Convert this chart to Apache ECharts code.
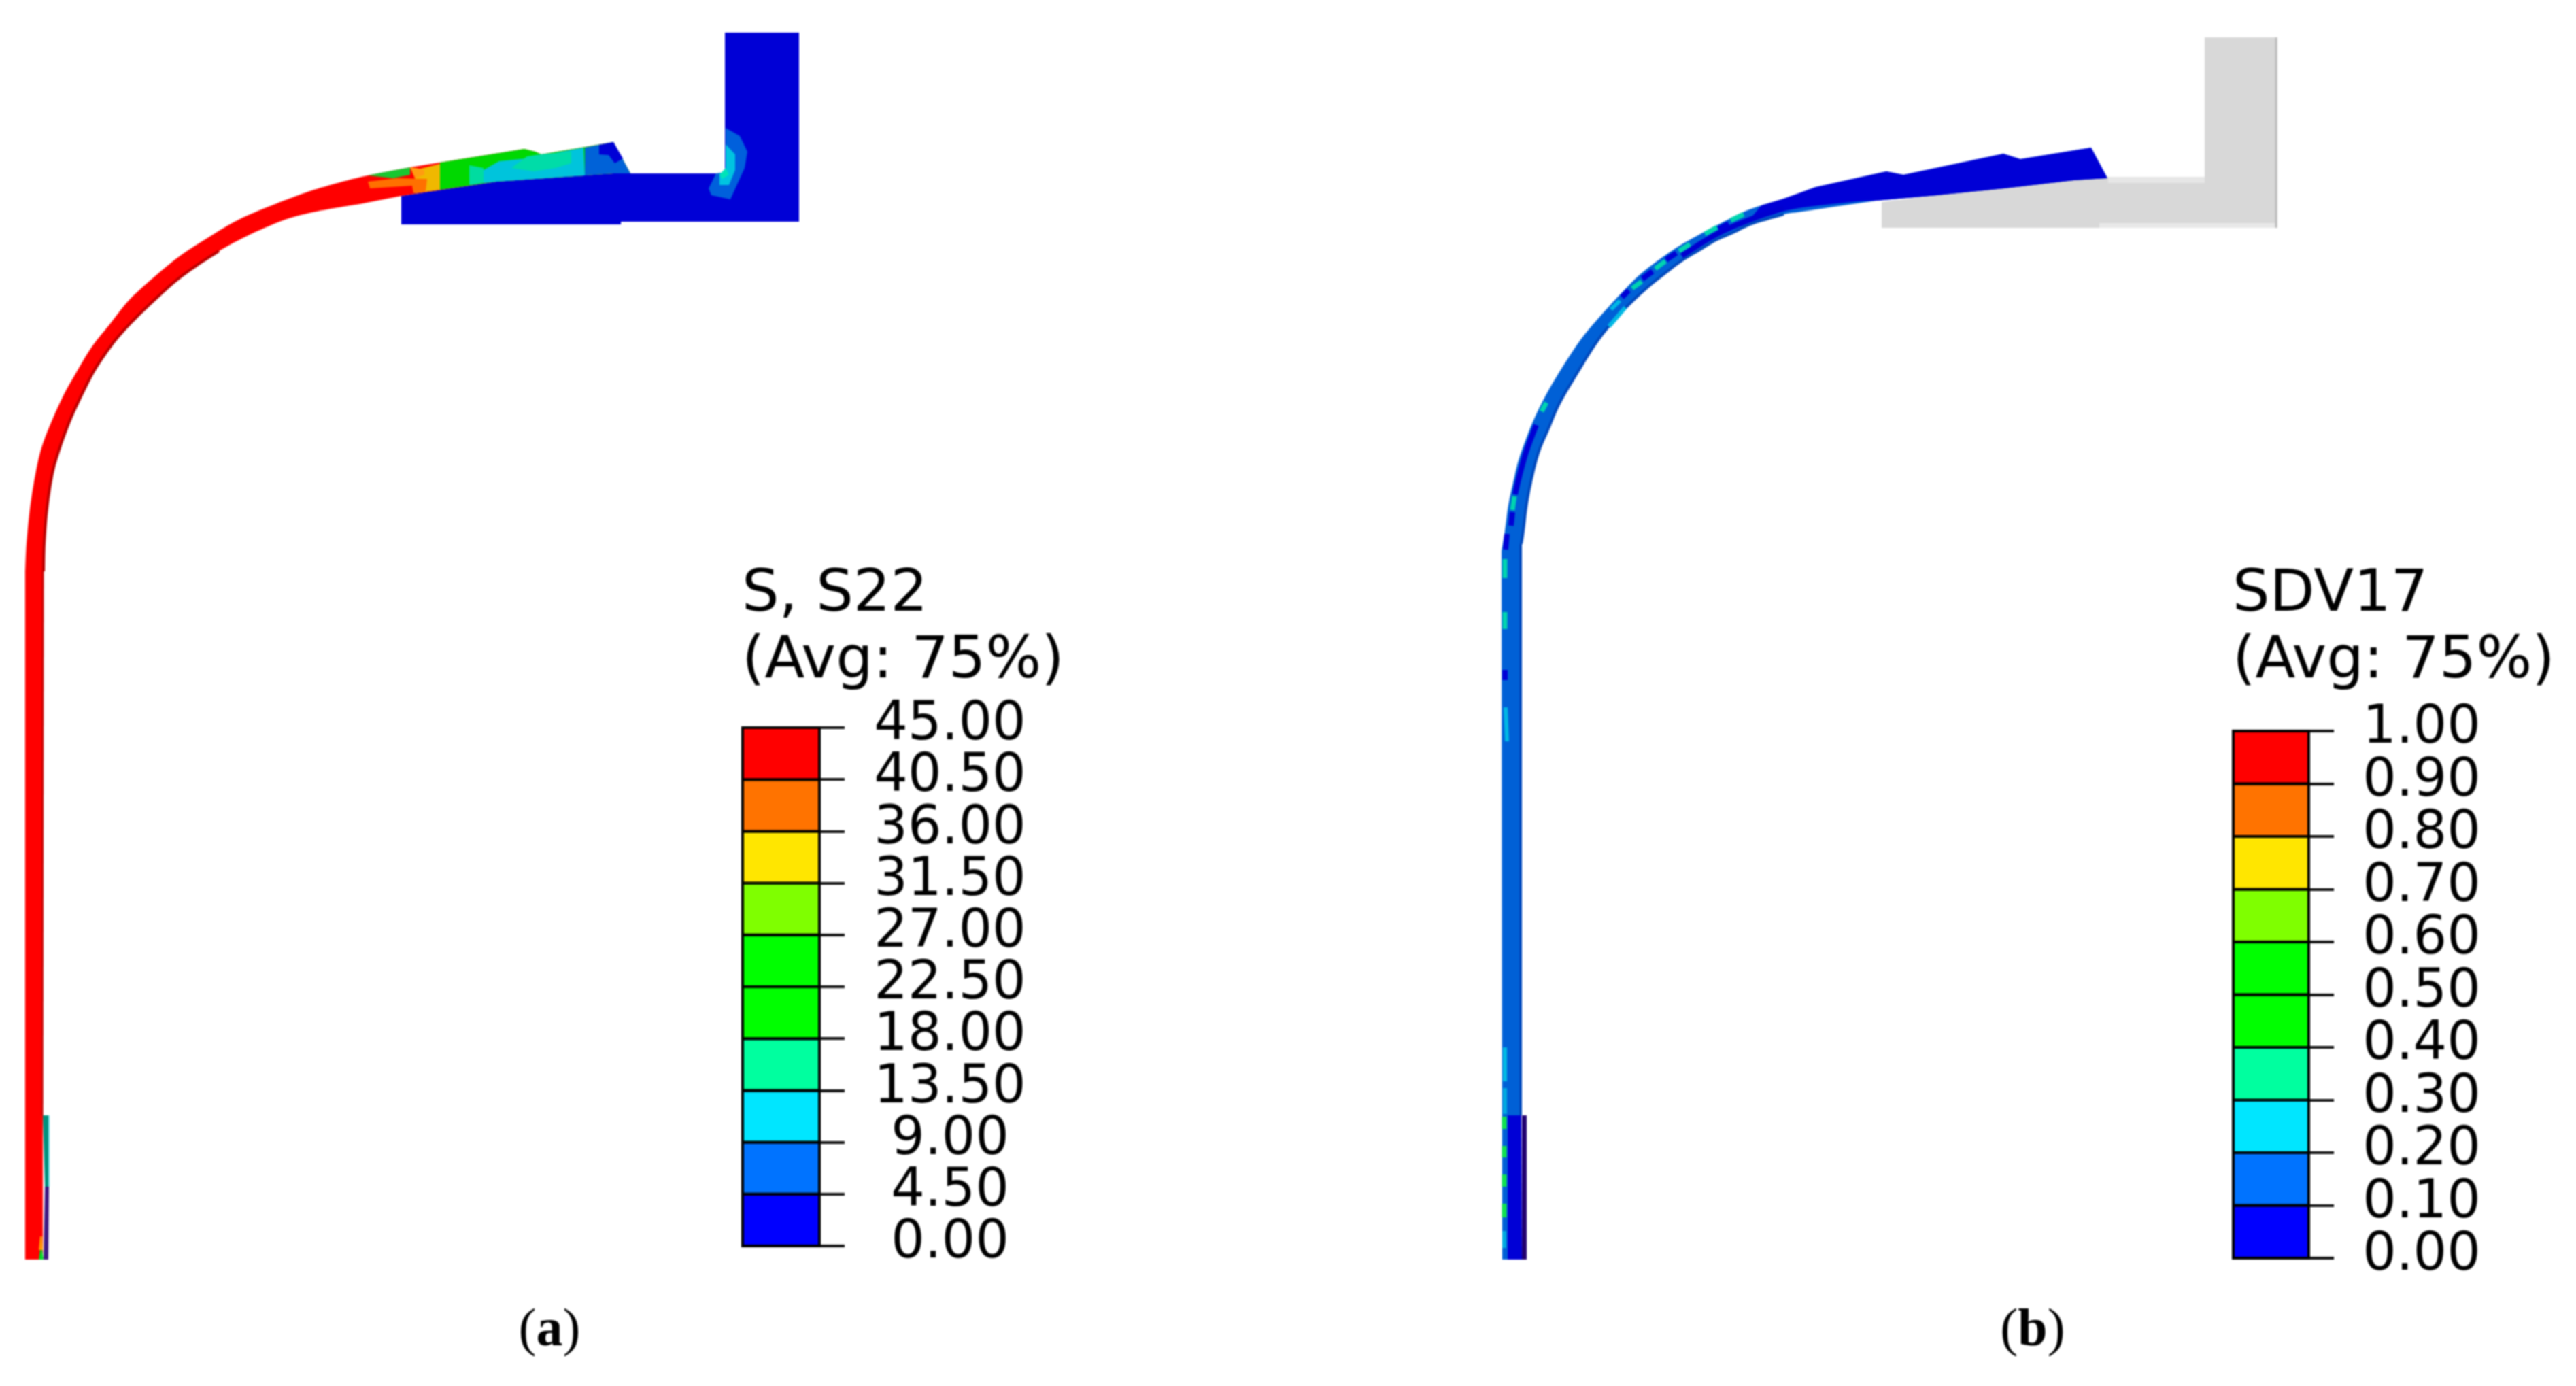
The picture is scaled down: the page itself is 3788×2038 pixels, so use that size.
<!DOCTYPE html>
<html><head><meta charset="utf-8">
<style>html,body{margin:0;padding:0;background:#fff}#c{width:3788px;height:2038px;filter:blur(0.8px)}</style>
<script src="https://cdn.jsdelivr.net/npm/echarts@6/dist/echarts.min.js"></script>
</head><body><div id="c"></div>
<script>
// ---------- legend scales ----------
const ticksS22 = [0, 4.5, 9, 13.5, 18, 22.5, 27, 31.5, 36, 40.5, 45];
const ticksSDV17 = [0, 0.1, 0.2, 0.3, 0.4, 0.5, 0.6, 0.7, 0.8, 0.9, 1];
const bandColors = ['#0000ff','#0073ff','#00e6ff','#00ff9f','#00ff00','#00ff00','#7fff00','#ffe600','#ff7300','#ff0000'];

// ---------- panel (a): section outlines ----------
const dieA = [[1066,48],[1175,48],[1175,326],[913,326],[913,330],[590,330],[590,288],[730,267],[902,255],[927,255],[1066,255]];
const dieHaloA = [[1067,188],[1088,200],[1099,223],[1095,247],[1074,293],[1046,287],[1042,277],[1053,255],[1067,253]];
const dieCoreA = [[1067,212],[1081,227],[1081,250],[1072,272],[1058,272],[1058,255],[1067,253]];
const dieHotA = [[1067,247],[1072,257],[1062,263],[1058,257]];
const arcOuterA = [[37,840],[39,799],[44,748],[51,703],[60,662],[74,624],[93,582],[112,548],[135,510],[162,476],[190,441],[227,407],[265,376],[305,350],[345,326],[387,307],[450,283],[500,268],[541,258],[603,246]];
const topA = [[771,219],[787,223],[796,227],[902,209],[927,255],[902,255],[730,267],[590,288]];
const arcInnerA = [[529,300],[498,305],[460,312],[422,322],[387,336],[357,350],[322,369],[288,391],[257,414],[227,441],[198,469],[173,496],[152,524],[135,551],[116,589],[102,620],[88,658],[77,696],[69,748],[65,799],[64,840]];
const footInnerA = [[63,1640],[63,1852]];
const footOuterA = [[37,1852]];
const ledgeTopA = [[63,1640],[72,1640],[72,1745],[66,1745]];
const ledgeLowA = [[66,1745],[72,1745],[71,1852],[64,1852]];
const tipGreenA = [[57,1852],[59,1838],[62,1838],[64,1852]];
const tipYellowA = [[57,1838],[59,1818],[62,1818],[63,1838]];
const patchBaseA = [[647,239],[771,219],[787,223],[796,227],[902,209],[927,255],[902,255],[730,267],[647,279]];
const patchMidBlueA = [[860,217],[881,213],[902,209],[927,255],[902,255],[860,258]];
const patchDarkA = [[881,213],[902,209],[916,233],[904,240],[895,228],[881,227]];
const patchCyanA = [[711,250],[734,237],[775,233],[858,217],[860,258],[730,267],[711,269]];
const patchTealA = [[752,247],[775,230],[794,227],[840,223],[840,240],[817,247],[785,252]];
const patchTealSecA = [[690,243],[711,247],[711,269],[690,272]];
const patchYellowA = [[610,250],[647,241],[647,279],[610,284]];
const patchOrangeA = [[541,267],[583,262],[628,263],[626,281],[608,284],[606,273],[544,277]];
const patchGreenUpA = [[541,258],[560,254],[603,246],[603,257],[578,262]];
const patchBlobA = [[603,246],[612,247],[624,250],[624,257],[610,262]];

// ---------- panel (b) ----------
const dieB = [[3242,55],[3349,55],[3349,335],[2767,335],[2767,297],[2849,287],[2948,277],[3050,265],[3100,260],[3242,260]];
const dieStripTopB = [[3100,260],[3242,260],[3242,269],[3100,269]];
const dieStripLowB = [[3087,328],[3346,328],[3346,335],[3087,335]];
const dieEdgeB = [[3347,55],[3347,335]];
const footOuterB = [[2209,1852]];
const arcOuterB = [[2208,810],[2213,780],[2218,743],[2225,710],[2233,677],[2245,643],[2255,618],[2270,587],[2287,557],[2307,525],[2330,492],[2362,455],[2387,428],[2410,405],[2438,383],[2467,363],[2495,347],[2523,332],[2563,312],[2590,302],[2623,292],[2670,275]];
const topB = [[2774,252],[2799,257],[2946,226],[2971,234],[3075,217],[3099,262],[3050,265],[2948,277],[2849,287],[2759,295]];
const arcInnerB = [[2690,305],[2657,310],[2623,315],[2598,322],[2573,330],[2548,342],[2523,353],[2498,368],[2473,383],[2448,402],[2423,422],[2393,450],[2363,483],[2343,510],[2320,547],[2293,593],[2277,630],[2263,663],[2253,700],[2245,740],[2240,780],[2237,800]];
const footInnerB = [[2237,1640],[2237,1852]];
const upperDarkB = [[2590,302],[2623,292],[2670,275],[2774,252],[2799,257],[2946,226],[2971,234],[3075,217],[3099,262],[3050,265],[2948,277],[2849,287],[2759,295],[2690,297],[2620,311],[2575,320]];
const lowerStrokeB = [[2620,306],[2675,299],[2759,290]];
const innerStraightB = [[2236,800],[2236,1640]];
const innerDarkB = [[2473,376],[2523,345],[2573,323],[2623,306]];
const laneDarkB = [[[2259,625],[2244,665],[2233,705],[2228,727]],[[2224,753],[2222,773]],[[2216,785],[2214,808]],[[2385,437],[2395,427]],[[2415,410],[2430,399]],[[2450,382],[2465,372]],[[2527,337],[2542,329]],[[2213,985],[2213,1000]]];
const laneTealB = [[[2227,730],[2224,750]],[[2274,592],[2267,605]],[[2400,424],[2414,414]],[[2434,395],[2449,384]],[[2469,369],[2485,359]],[[2507,344],[2525,334]],[[2545,324],[2564,315]],[[2213,822],[2213,850]],[[2213,900],[2213,925]]];
const laneCyanB = [[[2369,455],[2382,442]],[[2366,480],[2390,452]],[[2214,1040],[2216,1090]],[[2213,1540],[2213,1590]]];
const ledgeCoreB = [[2217,1640],[2237,1640],[2238,1852],[2217,1852]];
const ledgeEdgeB = [[2238,1640],[2245,1640],[2245,1852],[2238,1852]];
const laneGreenB = [[[2212,1642],[2212,1660]],[[2212,1685],[2212,1702]],[[2212,1727],[2212,1745]],[[2212,1770],[2212,1790]]];
const laneLightB = [[[2212,1810],[2212,1835]],[[2213,1600],[2213,1638]]];
const seamB = [[2780,291],[2849,286],[2948,276],[3050,264],[3099,261]];

// ---------- helpers: every mark goes through the chart's axes ----------
// rounds a run of screen points into a curve for drawing only
function rounded(p) {
  const out = [];
  for (let i = 0; i < p.length - 1; i++) {
    const a = p[Math.max(i-1,0)], b = p[i], c = p[i+1], d = p[Math.min(i+2,p.length-1)];
    for (let k = 0; k < 10; k++) {
      const t = k/10, t2 = t*t, t3 = t2*t;
      out.push([0,1].map(j => 0.5*(2*b[j] + (c[j]-a[j])*t + (2*a[j]-5*b[j]+4*c[j]-d[j])*t2 + (3*b[j]-a[j]-3*c[j]+d[j])*t3)));
    }
  }
  out.push(p[p.length-1]);
  return out;
}
function base(all){ return { type:'custom', coordinateSystem:'cartesian2d', xAxisIndex:0, yAxisIndex:0, silent:true, clip:false, data:all }; }
function poly(outline, fill) {
  return Object.assign(base(outline), { renderItem:(p,api)=> p.dataIndex ? null :
    ({ type:'polygon', shape:{points:outline.map(q=>api.coord(q))}, style:{fill} }) });
}
function band(parts, fill) {   // parts: [points, isCurved]
  const all = parts.flatMap(x=>x[0]);
  return Object.assign(base(all), { renderItem:(p,api)=> p.dataIndex ? null :
    ({ type:'polygon', shape:{points:parts.flatMap(([pts,cv])=>{ const s=pts.map(q=>api.coord(q)); return cv?rounded(s):s; })}, style:{fill} }) });
}
function stroke(path, color, width, curved) {
  return Object.assign(base(path), { renderItem:(p,api)=> { if (p.dataIndex) return null;
    const s = path.map(q=>api.coord(q));
    return { type:'polyline', shape:{points:curved?rounded(s):s}, style:{fill:null,stroke:color,lineWidth:width,lineJoin:'round'} }; } });
}
function bands(ticks, gridAxis) {
  const rows = ticks.slice(0,-1).map((lo,i)=>[lo,ticks[i+1],i]);
  return { type:'custom', coordinateSystem:'cartesian2d', xAxisIndex:gridAxis, yAxisIndex:gridAxis, silent:true, clip:false, data:rows, encode:{y:[0,1]},
    renderItem:(p,api)=>{
      const a=api.coord([0,api.value(1)]), b=api.coord([1,api.value(0)]);
      return { type:'rect', shape:{x:a[0],y:a[1],width:b[0]-a[0],height:b[1]-a[1]}, style:{fill:bandColors[api.value(2)],stroke:'#000',lineWidth:4} };
    } };
}
const fontUI = 'DejaVu Sans';
// tick values drawn as text through the same y scale as the ticks
function tickTexts(ticks, gridAxis, gap) {
  return { type:'custom', coordinateSystem:'cartesian2d', xAxisIndex:gridAxis, yAxisIndex:gridAxis, silent:true, clip:false,
    data:ticks.map(v=>[1,v]),
    renderItem:(p,api)=>{
      const at=api.coord([1,api.value(1)]);
      return { type:'text', style:{text:api.value(1).toFixed(2), x:at[0]+gap, y:at[1]-3, align:'center', verticalAlign:'middle',
        fill:'#000', font:'78px "'+fontUI+'"'} };
    } };
}
function scaleAxis(idx, ticks) {
  return { gridIndex:idx, type:'value', position:'right', min:0, max:ticks[ticks.length-1], interval:ticks[1],
    axisLine:{show:true,onZero:false,lineStyle:{color:'#000',width:4}},
    axisTick:{show:true,length:37,lineStyle:{color:'#111',width:4}},
    splitLine:{show:false}, axisLabel:{show:false} };
}
const hiddenX = i => ({gridIndex:i,type:'value',min:0,max:1,show:false});

const series = [
  poly(dieA,'#0000d6'), poly(dieHaloA,'#0060dc'), poly(dieCoreA,'#00c4e0'), poly(dieHotA,'#00e4b8'),
  band([[footOuterA,0],[arcOuterA,1],[topA,0],[arcInnerA,1],[footInnerA,0]],'#ff0000'),
  stroke(arcInnerA.slice(6),'#b80000',4,true), stroke([[63,840],[62,1640]],'#c80000',3),
  poly(ledgeTopA,'#00907c'), stroke([[72,1640],[72,1745]],'#70e0e8',2), poly(ledgeLowA,'#401880'),
  poly(tipYellowA,'#ff9800'), poly(tipGreenA,'#00d820'),
  poly(patchBaseA,'#00d800'),
  poly(patchMidBlueA,'#0062d8'), poly(patchDarkA,'#0000d6'), poly(patchCyanA,'#00c4dc'), poly(patchTealA,'#00dca8'),
  poly(patchTealSecA,'#00dca0'),
  poly(patchYellowA,'#f0b800'), poly(patchOrangeA,'#ff7000'), poly(patchGreenUpA,'#18c830'), poly(patchBlobA,'#ff9c10'),

  poly(dieB,'#d8d8d8'), poly(dieStripTopB,'#e6e6e6'), poly(dieStripLowB,'#e8e8e8'), stroke(dieEdgeB,'#bcbcbc',3),
  stroke(seamB,'#ece6d0',4),
  band([[footOuterB,0],[arcOuterB,1],[topB,0],[arcInnerB,1],[footInnerB,0]],'#0060d6'),
  poly(upperDarkB,'#0000d6'),
  stroke(lowerStrokeB,'#0000d6',6),
  stroke(arcInnerB.slice(2),'#0048bc',4,true), stroke(innerStraightB,'#0048bc',4), stroke(innerDarkB,'#0000d0',8,true),
  ...laneDarkB.map(s=>stroke(s,'#0000d6',8,s.length>2)),
  ...laneTealB.map(s=>stroke(s,'#00d4b0',7)),
  ...laneCyanB.map(s=>stroke(s,'#00b8e4',6)),
  poly(ledgeCoreB,'#0000d6'), poly(ledgeEdgeB,'#200070'),
  ...laneGreenB.map(s=>stroke(s,'#10e050',7)),
  ...laneLightB.map(s=>stroke(s,'#00a8e0',6)),

  bands(ticksS22,1), bands(ticksSDV17,2),
  tickTexts(ticksS22,1,192), tickTexts(ticksSDV17,2,166)
];

const chart = echarts.init(document.getElementById('c'), null, {renderer:'canvas'});
const capRich = {b:{fontFamily:'Liberation Serif',fontSize:78,fontWeight:'bold',color:'#000'}};
chart.setOption({
  animation:false, backgroundColor:'#fff',
  title:[
    {text:'S, S22\n(Avg: 75%)',left:1086,top:822,textStyle:{fontFamily:fontUI,fontSize:86,fontWeight:'normal',color:'#000',lineHeight:98}},
    {text:'SDV17\n(Avg: 75%)',left:3278,top:822,textStyle:{fontFamily:fontUI,fontSize:86,fontWeight:'normal',color:'#000',lineHeight:98}},
    {text:'({b|a})',left:803,top:1914,textAlign:'center',textStyle:{fontFamily:'Liberation Serif',fontSize:78,fontWeight:'normal',color:'#000',rich:capRich}},
    {text:'({b|b})',left:2984,top:1914,textAlign:'center',textStyle:{fontFamily:'Liberation Serif',fontSize:78,fontWeight:'normal',color:'#000',rich:capRich}}
  ],
  grid:[
    {left:0,top:0,width:3788,height:2038},
    {left:1092,top:1070,width:113,height:762},
    {left:3284,top:1075,width:111,height:775}
  ],
  xAxis:[{gridIndex:0,type:'value',min:0,max:3788,show:false}, hiddenX(1), hiddenX(2)],
  yAxis:[{gridIndex:0,type:'value',min:0,max:2038,inverse:true,show:false}, scaleAxis(1,ticksS22), scaleAxis(2,ticksSDV17)],
  series
});
</script></body></html>
